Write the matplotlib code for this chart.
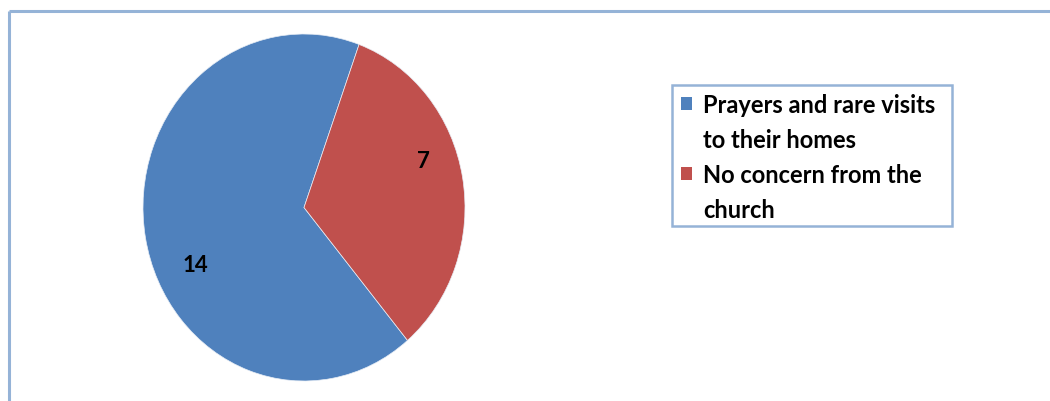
import matplotlib
matplotlib.use("Agg")
import matplotlib.pyplot as plt
from matplotlib.patches import Rectangle
import numpy as np

categories = ["Prayers and rare visits\nto their homes", "No concern from the\nchurch"]
values = [14, 7]
colors = ["#4F81BD", "#C0504D"]
frame_color = "#95B3D7"

W, H = 1050, 402
fig = plt.figure(figsize=(W / 100, H / 100), dpi=100)
plt.rcParams["font.family"] = ["Lato", "DejaVu Sans"]


def fx(px):
    return px / W


def fy(py):
    return 1 - py / H


# outer chart frame (runs off the right and bottom edges)
fig.add_artist(plt.Line2D([fx(9), fx(9)], [fy(12), fy(420)], color=frame_color, lw=2.2,
                          transform=fig.transFigure, solid_capstyle="butt"))
fig.add_artist(plt.Line2D([fx(9), fx(1070)], [fy(12), fy(12)], color=frame_color, lw=2.2,
                          transform=fig.transFigure, solid_capstyle="butt"))

# pie area
ax = fig.add_axes([fx(143), fy(382), fx(465) - fx(143), (382 - 35) / H])
wedges, _ = ax.pie(values, colors=colors, startangle=-50, counterclock=False,
                   radius=1.0, wedgeprops=dict(linewidth=0.5, edgecolor="#e8eef6"))
ax.set_aspect("auto")
ax.set_xlim(-1, 1)
ax.set_ylim(-1, 1)

# value labels inside each wedge
label_offsets = [(16, 0.75), (10, 0.79)]
for w, v, (dtheta, r) in zip(wedges, values, label_offsets):
    mid = 0.5 * (w.theta1 + w.theta2) + dtheta
    ang = np.deg2rad(mid)
    ax.text(r * np.cos(ang), r * np.sin(ang), str(v), ha="center", va="center",
            fontsize=16, fontweight="bold", color="black")

# legend box
lx0, ly0, lx1, ly1 = 672, 86, 952, 227
fig.add_artist(Rectangle((fx(lx0), fy(ly1)), fx(lx1) - fx(lx0), fy(ly0) - fy(ly1),
                         transform=fig.transFigure, facecolor="white",
                         edgecolor=frame_color, lw=1.8))
line_step = 35
y = 104
for cat, col in zip(categories, colors):
    fig.add_artist(Rectangle((fx(681), fy(y + 7)), fx(11), 13 / H,
                             transform=fig.transFigure, facecolor=col, edgecolor="none"))
    for line in cat.split("\n"):
        fig.text(fx(703), fy(y), line, ha="left", va="center_baseline", fontsize=17,
                 fontweight="bold", color="black")
        y += line_step

fig.savefig("out.png", dpi=100, facecolor="white")
